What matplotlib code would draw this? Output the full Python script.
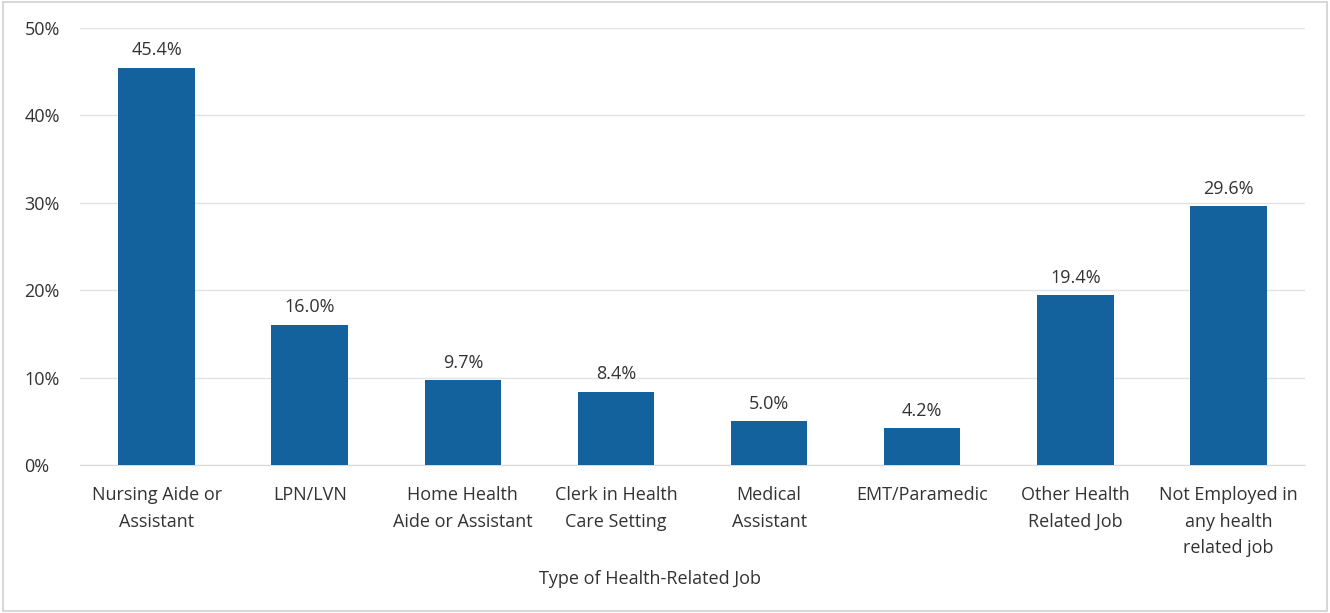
import numpy as np
import matplotlib.pyplot as plt
from matplotlib.patches import Rectangle

plt.rcParams['font.family'] = ['Open Sans', 'DejaVu Sans']

jobs = ["Nursing Aide or\nAssistant", "LPN/LVN", "Home Health\nAide or Assistant",
        "Clerk in Health\nCare Setting", "Medical\nAssistant", "EMT/Paramedic",
        "Other Health\nRelated Job", "Not Employed in\nany health\nrelated job"]
shares = [45.4, 16.0, 9.7, 8.4, 5.0, 4.2, 19.4, 29.6]

bar_color = "#13629D"
text_color = "#333333"

fig = plt.figure(figsize=(13.3, 6.13), dpi=100)
ax = fig.add_axes([0.0602, 0.2414, 0.921, 0.7129])

x = np.arange(len(jobs))
ax.bar(x, shares, width=0.5, color=bar_color, zorder=3)
for xi, v in zip(x, shares):
    ax.text(xi, v + 1.0, f"{v:.1f}%", ha="center", va="bottom",
            fontsize=13, color=text_color)

ax.set_xlim(-0.5, len(jobs) - 0.5)
ax.set_ylim(0, 50)
ax.set_yticks(np.arange(0, 51, 10))
ax.set_yticklabels([f"{t}%" for t in range(0, 51, 10)])
ax.set_xticks(x)
ax.set_xticklabels(jobs, linespacing=1.62)
ax.tick_params(axis="both", length=0, labelsize=13, colors=text_color)
ax.tick_params(axis="x", pad=15)
ax.tick_params(axis="y", pad=40)
for lbl in ax.get_yticklabels():
    lbl.set_horizontalalignment("left")

ax.grid(axis="y", color="#E3E3E3", linewidth=1, zorder=0)
for s in ["top", "right", "left"]:
    ax.spines[s].set_visible(False)
ax.spines["bottom"].set_color("#D9D9D9")

fig.text(0.4885, 0.056, "Type of Health-Related Job", ha="center", va="center",
         fontsize=13, color=text_color)

fig.patches.append(Rectangle((0.002, 0.003), 0.996, 0.994, transform=fig.transFigure,
                             fill=False, edgecolor="#D0D0D0", linewidth=1.2))

fig.savefig("out.png", dpi=100)
